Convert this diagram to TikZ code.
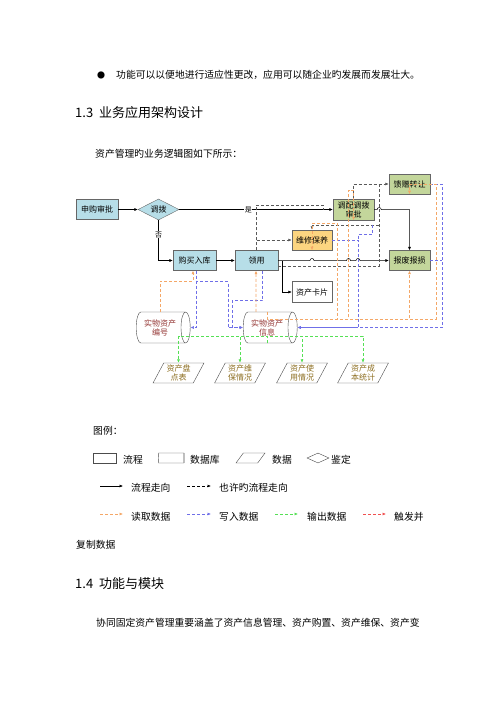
\documentclass[tikz,border=0pt]{standalone}
\usepackage{fontspec}
\setmainfont{Noto Sans CJK SC}
\usetikzlibrary{shapes.geometric, arrows.meta}
\definecolor{boxblue}{HTML}{B7DEE8}
\definecolor{boxgreen}{HTML}{C3D69B}
\definecolor{boxyellow}{HTML}{FCD580}
\definecolor{readorange}{HTML}{F4A767}
\definecolor{writeblue}{HTML}{6F6FE8}
\definecolor{outgreen}{HTML}{55E055}
\definecolor{trigred}{HTML}{F05050}
\definecolor{dbred}{HTML}{953735}
\definecolor{datagold}{HTML}{8C6D1F}
\tikzstyle{blue_box} = [
    rectangle,
    draw=black!60,
    fill=boxblue,
    font=\fontsize{8}{9}\selectfont,
    align=center,
    inner sep=0pt,
    minimum width=42pt,
    minimum height=20pt
]
\tikzstyle{green_box} = [
    rectangle,
    draw=black!60,
    fill=boxgreen,
    font=\fontsize{8}{9}\selectfont,
    align=center,
    inner sep=0pt,
    minimum width=41pt,
    minimum height=20pt
]
\tikzstyle{db} = [
    cylinder,
    draw=black!70,
    fill=white,
    text=dbred,
    font=\fontsize{8}{9}\selectfont,
    align=center,
    inner sep=1pt,
    aspect=0.5,
    minimum width=31pt, % across
    minimum height=54pt % along
]
\tikzstyle{data} = [
    trapezium,
    trapezium left angle=63,
    trapezium right angle=117,
    trapezium stretches=true,
    draw=black!70,
    text=datagold,
    font=\fontsize{8}{9}\selectfont,
    align=center,
    inner sep=1pt,
    minimum width=51pt,
    minimum height=20pt
]
\tikzstyle{body_text} = [
    anchor=west,
    inner sep=0pt,
    font=\fontsize{9.8}{12}\selectfont
]
\tikzstyle{head_text} = [
    anchor=west,
    inner sep=0pt,
    font=\fontsize{13}{15}\selectfont
]

\begin{document}
\begin{tikzpicture}[
    x=1pt, y=-1pt,
    >={Latex[length=3.5pt,width=3pt]},
    flow/.style={->, line width=0.5pt},
    maybe/.style={line width=0.6pt, black!65, dash pattern=on 3pt off 2pt},
    read/.style={line width=0.6pt, readorange, dash pattern=on 3pt off 2pt},
    write/.style={line width=0.6pt, writeblue, dash pattern=on 3pt off 2pt},
    output/.style={line width=0.6pt, outgreen, dash pattern=on 3pt off 2pt},
    trigger/.style={line width=0.6pt, trigred, dash pattern=on 3pt off 2pt},
    tag/.style={fill=white, inner sep=0.5pt, font=\fontsize{7}{8}\selectfont}
]
\fill[white] (0,0) rectangle (500,707);
\useasboundingbox (0,0) rectangle (500,707);

% page text
\node[body_text, font=\fontsize{8}{9}\selectfont] (bullet) at (97,75) {●};
\node[body_text] (line1) at (116,75) {功能可以以便地进行适应性更改，应用可以随企业旳发展而发展壮大。};
\node[head_text] (h13) at (75,113) {1.3\hspace{6pt}业务应用架构设计};
\node[body_text] (intro) at (95,154) {资产管理旳业务逻辑图如下所示：};

% boxes
\node [blue_box] (shengou) at (97,209.5) {申购审批};
\node [diamond, aspect=2, draw=black!60, fill=boxblue, inner sep=0pt,
       minimum width=41pt, minimum height=21pt,
       font=\fontsize{8}{9}\selectfont] (diaobo) at (158.5,209.5) {调拨};
\node [green_box, minimum height=21pt] (tiaopei) at (353.5,209.5) {调配调拨\\审批};
\node [green_box] (kuizeng) at (409.5,184) {馈赠转让};
\node [blue_box, minimum width=43pt] (goumai) at (194.5,260.5) {购买入库};
\node [blue_box, minimum width=43pt] (lingyong) at (256.5,260.5) {领用};
\node [green_box, fill=boxyellow, minimum width=40pt] (weixiu) at (312,240) {维修保养};
\node [green_box] (baofei) at (409.5,260.5) {报废报损};
\node [green_box, fill=white, minimum width=40pt, minimum height=21pt] (kapian) at (312,292) {资产卡片};
\node [db] (bianhao) at (160,327.5) {实物资产\\编号};
\node [db] (xinxi) at (267,327.5) {实物资产\\信息};
\node [data] (pandian) at (178.5,373) {资产盘\\点表};
\node [data] (weibao) at (240,373) {资产维\\保情况};
\node [data] (shiyong) at (302,373) {资产使\\用情况};
\node [data] (chengben) at (363,373) {资产成\\本统计};

\coordinate (merge) at ([xshift=-10pt]tiaopei.west |- diaobo.east);
\coordinate (rbus) at ([yshift=-7pt]xinxi.north);
\coordinate (gbus) at ([yshift=7pt]xinxi.south);
\coordinate (side) at ([xshift=5pt]tiaopei.east |- kuizeng.west);

% main flow
\draw[flow] (shengou) -- (diaobo);
\draw[flow] (diaobo.east) -- node[pos=0.45, tag] {是} (diaobo.east -| tiaopei.west);
\draw[flow] (diaobo.south) |- node[pos=0.18, tag] {否} (goumai.west);
\draw[flow] (goumai) -- (lingyong);
\draw[flow] (lingyong.east)
    -- ([xshift=-2pt]lingyong.east -| weixiu.south) arc[start angle=180, end angle=0, radius=2pt]
    -- ([xshift=-7pt]lingyong.east -| tiaopei.south) arc[start angle=180, end angle=0, radius=2pt]
    -- ([xshift=2.5pt]lingyong.east -| tiaopei.south) arc[start angle=180, end angle=0, radius=2pt]
    -- (baofei.west);
\draw[flow] ([xshift=4pt]lingyong.east) |- (kapian.west);
\draw[flow] (tiaopei.east) -- ([xshift=3pt]tiaopei.east) arc[start angle=180, end angle=0, radius=2pt]
    -- (tiaopei.east -| baofei.north) -- (baofei.north);

% possible flow
\draw[maybe] (lingyong.north) |- ([yshift=4.5pt]merge) -- (merge);
\draw[maybe, ->] (lingyong.north |- weixiu.west) -- (weixiu.west);
\draw[maybe, ->] (tiaopei.north) |- (kuizeng.west);
\draw[maybe] ([yshift=-5.5pt]lingyong.east) -| (side);
\draw[maybe, ->] (side |- 0,225.5) -| (weixiu.north);

% write data
\draw[write, ->] ([xshift=1.5pt]goumai.south) |- (bianhao.east);
\draw[write, ->] ([xshift=1.5pt]goumai.south) -- ++(0,11) -| ([xshift=-15pt]xinxi.west) -- (xinxi.west);
\draw[write, ->] ([xshift=6pt]lingyong.south) -- ++(0,30) -| ([xshift=-11pt]xinxi.west) -- (xinxi.west);
\draw[write, ->] (weixiu.east) -| ([xshift=4.5pt]tiaopei.south |- xinxi.east) -- (xinxi.east);
\draw[write] ([xshift=-1.5pt, yshift=-5pt]tiaopei.south east) -- ++(0,9.5) -| ([xshift=4.5pt]tiaopei.south |- weixiu.east);
\draw[write, ->] (kuizeng.east) -- ++(12,0) |- (xinxi.east);
\draw[write] (baofei.east) -- ++(12,0);

% read data
\draw[read, ->] (bianhao.north) -- ++(0,-31) -| ([xshift=-1.5pt]goumai.south);
\draw[read, ->] ([xshift=-11pt]xinxi.north) -- ([xshift=-0.5pt]lingyong.south);
\draw[read, ->] (xinxi.north) -- (rbus) -| ([xshift=25pt, yshift=27pt]weixiu.south) -| (weixiu.south);
\draw[read, ->] (xinxi.north) -- (rbus) -| ([xshift=-5pt, yshift=30pt]tiaopei.south) -| (tiaopei.south);
\draw[read, ->] (xinxi.north) -- (rbus) -| (baofei.south);
\draw[read, ->] (xinxi.north) -- (rbus) -| ([xshift=26.5pt, yshift=10pt]kuizeng.south) -| (kuizeng.south);

% output data
\foreach \d in {pandian, weibao, shiyong, chengben}
    \draw[output, ->] (xinxi.south) -- (gbus) -| (\d.north);

% legend
\node[body_text] (legend) at (93,431) {图例：};
\node [rectangle, draw=black!70, minimum width=23pt, minimum height=10pt, inner sep=0pt] (lg_box) at (104.5,458) {};
\node[body_text] (lg_box_t) at (123,460) {流程};
\node [db, minimum width=10pt, minimum height=26pt, inner sep=0.5pt] (lg_db) at (171,458) {};
\node[body_text] (lg_db_t) at (190,460) {数据库};
\node [data, minimum width=29pt, minimum height=10pt] (lg_data) at (250.5,458) {};
\node[body_text] (lg_data_t) at (272,460) {数据};
\node [diamond, aspect=2, draw=black!70, minimum width=22pt, minimum height=10pt, inner sep=0pt] (lg_dia) at (318,458) {};
\node[body_text] (lg_dia_t) at (331,460) {鉴定};

\coordinate (lg_f1) at (100,486);
\coordinate (lg_f2) at (123,486);
\coordinate (lg_m1) at (187,486);
\coordinate (lg_m2) at (211,486);
\draw[flow] (lg_f1) -- (lg_f2);
\node[body_text] (lg_f_t) at (131,488) {流程走向};
\draw[maybe, black, ->] (lg_m1) -- (lg_m2);
\node[body_text] (lg_m_t) at (219,488) {也许旳流程走向};

\coordinate (lg_r1) at (100,514);
\coordinate (lg_r2) at (123,514);
\coordinate (lg_w1) at (187,514);
\coordinate (lg_w2) at (211,514);
\coordinate (lg_o1) at (275,514);
\coordinate (lg_o2) at (298,514);
\coordinate (lg_t1) at (363,514);
\coordinate (lg_t2) at (386,514);
\draw[read, ->] (lg_r1) -- (lg_r2);
\node[body_text] (lg_r_t) at (131,517) {读取数据};
\draw[write, ->] (lg_w1) -- (lg_w2);
\node[body_text] (lg_w_t) at (219,517) {写入数据};
\draw[output, ->] (lg_o1) -- (lg_o2);
\node[body_text] (lg_o_t) at (307,517) {输出数据};
\draw[trigger, ->] (lg_t1) -- (lg_t2);
\node[body_text] (lg_t_t) at (394,517) {触发并};
\node[body_text] (lg_t_t2) at (76,545) {复制数据};

% next section
\node[head_text] (h14) at (75,584) {1.4\hspace{6pt}功能与模块};
\node[body_text] (line2) at (96,623) {协同固定资产管理重要涵盖了资产信息管理、资产购置、资产维保、资产变};
\end{tikzpicture}
\end{document}
